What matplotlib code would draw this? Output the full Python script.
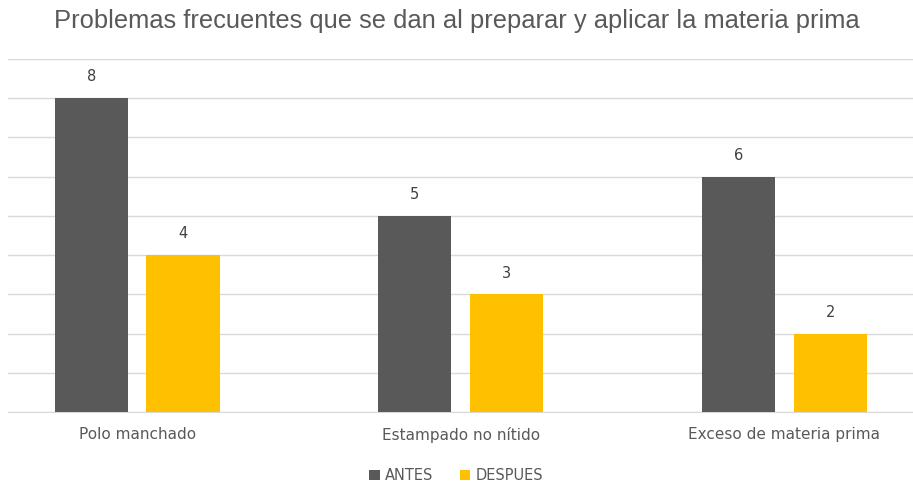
import matplotlib
matplotlib.use("Agg")
import matplotlib.pyplot as plt
import numpy as np

# datos del grafico
categorias = ["Polo manchado", "Estampado no nítido", "Exceso de materia prima"]
antes = [8, 5, 6]
despues = [4, 3, 2]
series = ["ANTES", "DESPUES"]

gris = "#595959"
amarillo = "#FFC000"
texto = "#595959"

fig = plt.figure(figsize=(9.13, 4.86), dpi=100)
ax = fig.add_axes([8 / 913, 74 / 486, 905 / 913, 353 / 486])

x = np.arange(len(categorias))
ancho = 0.226
sep = 0.142

b1 = ax.bar(x - sep, antes, ancho, color=gris, label=series[0], zorder=3)
b2 = ax.bar(x + sep, despues, ancho, color=amarillo, label=series[1], zorder=3)

for barras in (b1, b2):
    for r in barras:
        ax.text(r.get_x() + r.get_width() / 2, r.get_height() + 0.35,
                f"{r.get_height():.0f}", ha="center", va="bottom",
                fontsize=10.5, color="#404040", family="DejaVu Sans")

ax.set_ylim(0, 9)
ax.set_xlim(-0.399, 2.398)
ax.set_yticks(range(0, 10))
ax.yaxis.grid(True, color="#D9D9D9", linewidth=1, zorder=0)
ax.tick_params(axis="y", left=False, labelleft=False)
ax.tick_params(axis="x", length=0, pad=11, labelsize=11, labelcolor=texto)
ax.set_xticks(x)
ax.set_xticklabels(categorias, family="DejaVu Sans")
for s in ["top", "right", "left"]:
    ax.spines[s].set_visible(False)
ax.spines["bottom"].set_color("#D9D9D9")

fig.text(0.5, 0.957, "Problemas frecuentes que se dan al preparar y aplicar la materia prima",
         ha="center", va="center", fontsize=18.4, color=texto, family="Liberation Sans")

fig.legend(handles=[b1, b2], labels=series, loc="center", bbox_to_anchor=(0.5, 0.022),
           ncol=2, frameon=False, labelcolor=texto, handlelength=0.7,
           handleheight=0.7, handletextpad=0.4, columnspacing=1.8,
           prop={"family": "DejaVu Sans", "size": 10.5})

fig.savefig("out.png", dpi=100)
